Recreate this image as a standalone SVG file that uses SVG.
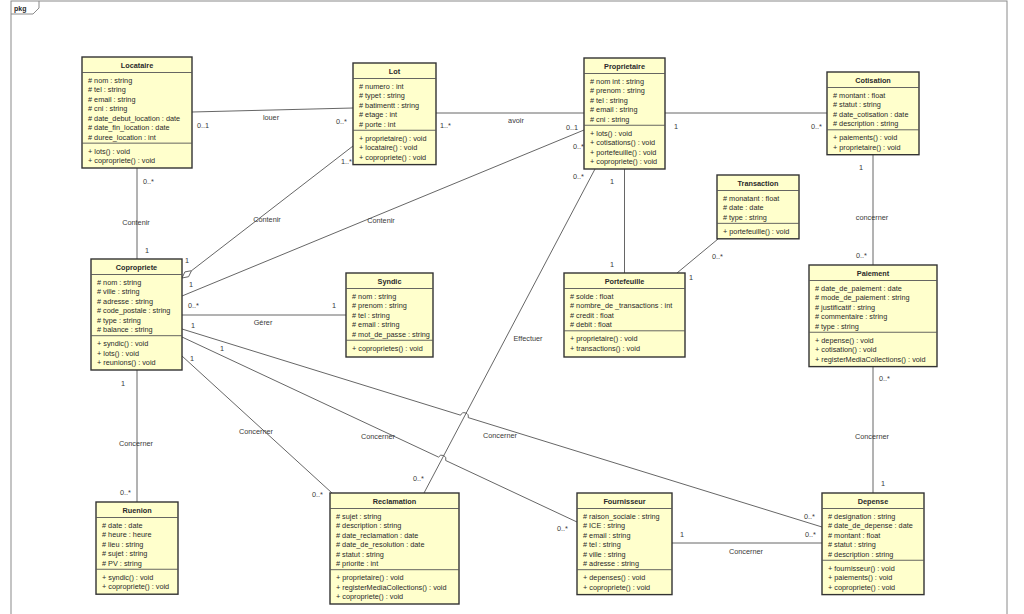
<svg xmlns="http://www.w3.org/2000/svg" width="1024" height="614" viewBox="0 0 1024 614">
<style>
text{font-family:"Liberation Sans",Arial,sans-serif;font-size:7.3px;fill:#2a2a2a}
.n rect{fill:#ffffcc;stroke:#333;stroke-width:1.4}
.n line{stroke:#555;stroke-width:0.9}
.n .t{font-weight:bold;text-anchor:middle}
.c path,.c line{fill:none;stroke:#555;stroke-width:0.9}
.c .dia{fill:#fff;stroke:#555;stroke-width:0.9}
.l text{fill:#3a3a3a}
.m{text-anchor:middle}
.frame{fill:none;stroke:#8a8a8a;stroke-width:1}
</style>
<rect width="1024" height="614" fill="#fff"/>
<g id="frame">
<rect class="frame" x="11" y="1" width="996" height="630"/>
<path class="frame" d="M11,14 H33 L39,8 V1"/>
<text x="14" y="10.5" style="font-weight:bold;font-size:7px">pkg</text>
</g>

<g class="c" id="connectors">
<line x1="192" y1="112" x2="353" y2="108"/>
<line x1="436" y1="113" x2="584" y2="113"/>
<line x1="665" y1="113" x2="827" y2="113"/>
<line x1="137" y1="168" x2="137" y2="259"/>
<line x1="353" y1="146" x2="191.5" y2="270.7"/>
<path class="dia" d="M182,278 L184.9,271.9 L191.5,270.7 L188.6,276.7 Z"/>
<line x1="584" y1="130" x2="182" y2="296"/>
<line x1="595" y1="169" x2="424" y2="493"/>
<line x1="624.5" y1="169" x2="624.5" y2="273"/>
<line x1="718" y1="239" x2="677" y2="273"/>
<line x1="873" y1="155" x2="873" y2="265"/>
<line x1="182" y1="315" x2="346" y2="315"/>
<line x1="137" y1="370" x2="137" y2="502"/>
<line x1="182" y1="356" x2="332" y2="493"/>
<path d="M182,337 L438.5,457.1 A4,4 0 0 1 445.7,460.5 L577,522"/>
<path d="M182,329 L460.6,415.2 A4,4 0 0 1 468.2,417.6 L822,527"/>
<line x1="672" y1="543" x2="822" y2="543"/>
<line x1="873" y1="367" x2="873" y2="493"/>
</g>

<g class="l" id="labels">
<text x="197" y="127.5">0..1</text>
<text x="271" y="119.5" class="m">louer</text>
<text x="336" y="124">0..*</text>
<text x="440" y="127.5">1..*</text>
<text x="516" y="122.5" class="m">avoir</text>
<text x="566" y="129.5">0..1</text>
<text x="674" y="128.5">1</text>
<text x="811" y="128.5">0..*</text>
<text x="143" y="183.5">0..*</text>
<text x="136" y="224.5" class="m">Contenir</text>
<text x="145" y="252.5">1</text>
<text x="267" y="221.5" class="m">Contenir</text>
<text x="185" y="262.5">1</text>
<text x="341" y="164">1..*</text>
<text x="381" y="222.5" class="m">Contenir</text>
<text x="573" y="149">0..*</text>
<text x="189" y="287">1</text>
<text x="188" y="307.5">0..*</text>
<text x="332" y="307.5">1</text>
<text x="263" y="324.5" class="m">Gérer</text>
<text x="191" y="327.5">1</text>
<text x="220" y="350.5">1</text>
<text x="190" y="360.5">1</text>
<text x="121" y="385.5">1</text>
<text x="136" y="445.5" class="m">Concerner</text>
<text x="120" y="494.5">0..*</text>
<text x="256" y="433.5" class="m">Concerner</text>
<text x="312" y="496.5">0..*</text>
<text x="413" y="480.5">0..*</text>
<text x="573" y="178.5">0..*</text>
<text x="528" y="340.5" class="m">Effectuer</text>
<text x="378" y="438.5" class="m">Concerner</text>
<text x="500" y="437.5" class="m">Concerner</text>
<text x="557" y="530.5">0..*</text>
<text x="804" y="518.5">0..*</text>
<text x="805" y="536.5">0..*</text>
<text x="680" y="536.5">1</text>
<text x="746" y="553.5" class="m">Concerner</text>
<text x="879" y="380.5">0..*</text>
<text x="872" y="438.5" class="m">Concerner</text>
<text x="881" y="485.5">1</text>
<text x="610" y="183.5">1</text>
<text x="610" y="266.5">1</text>
<text x="712" y="258.5">0..*</text>
<text x="689" y="279.5">1</text>
<text x="859" y="169.5">1</text>
<text x="872" y="219.5" class="m">concerner</text>
<text x="856" y="257.5">0..*</text>
</g>

<g class="n" id="Locataire">
<rect x="82" y="57" width="110" height="111"/>
<text class="t" x="137" y="68">Locataire</text>
<line x1="82" y1="72.5" x2="192" y2="72.5"/>
<text x="88" y="82.8"># nom : string</text>
<text x="88" y="92.25"># tel : string</text>
<text x="88" y="101.7"># email : string</text>
<text x="88" y="111.15"># cni : string</text>
<text x="88" y="120.6"># date_debut_location : date</text>
<text x="88" y="130.05"># date_fin_location : date</text>
<text x="88" y="139.5"># duree_location : int</text>
<line x1="82" y1="143.15" x2="192" y2="143.15"/>
<text x="88" y="153.65">+ lots() : void</text>
<text x="88" y="163.1">+ copropriete() : void</text>
</g>

<g class="n" id="Lot">
<rect x="353" y="63" width="83" height="101.6"/>
<text class="t" x="394.5" y="74">Lot</text>
<line x1="353" y1="78.5" x2="436" y2="78.5"/>
<text x="359" y="88.8"># numero : int</text>
<text x="359" y="98.25"># typet : string</text>
<text x="359" y="107.7"># batimentt : string</text>
<text x="359" y="117.15"># etage : int</text>
<text x="359" y="126.6"># porte : int</text>
<line x1="353" y1="130.25" x2="436" y2="130.25"/>
<text x="359" y="140.75">+ proprietaire() : void</text>
<text x="359" y="150.2">+ locataire() : void</text>
<text x="359" y="159.65">+ copropriete() : void</text>
</g>

<g class="n" id="Proprietaire">
<rect x="584" y="58" width="81" height="111"/>
<text class="t" x="624.5" y="69">Proprietaire</text>
<line x1="584" y1="73.5" x2="665" y2="73.5"/>
<text x="590" y="83.8"># nom int : string</text>
<text x="590" y="93.25"># prenom : string</text>
<text x="590" y="102.7"># tel : string</text>
<text x="590" y="112.15"># email : string</text>
<text x="590" y="121.6"># cni : string</text>
<line x1="584" y1="125.25" x2="665" y2="125.25"/>
<text x="590" y="135.75">+ lots() : void</text>
<text x="590" y="145.2">+ cotisations() : void</text>
<text x="590" y="154.65">+ portefeuille() : void</text>
<text x="590" y="164.1">+ copropriete() : void</text>
</g>

<g class="n" id="Cotisation">
<rect x="827" y="72" width="92" height="82.7"/>
<text class="t" x="873" y="83">Cotisation</text>
<line x1="827" y1="87.5" x2="919" y2="87.5"/>
<text x="833" y="97.8"># montant : float</text>
<text x="833" y="107.25"># statut : string</text>
<text x="833" y="116.7"># date_cotisation : date</text>
<text x="833" y="126.15"># description : string</text>
<line x1="827" y1="129.8" x2="919" y2="129.8"/>
<text x="833" y="140.3">+ paiements() : void</text>
<text x="833" y="149.75">+ proprietaire() : void</text>
</g>

<g class="n" id="Transaction">
<rect x="717" y="175" width="82" height="63.8"/>
<text class="t" x="758" y="186">Transaction</text>
<line x1="717" y1="190.5" x2="799" y2="190.5"/>
<text x="723" y="200.8"># monatant : float</text>
<text x="723" y="210.25"># date : date</text>
<text x="723" y="219.7"># type : string</text>
<line x1="717" y1="223.35" x2="799" y2="223.35"/>
<text x="723" y="233.85">+ portefeuille() : void</text>
</g>

<g class="n" id="Copropriete">
<rect x="91" y="259" width="91" height="111"/>
<text class="t" x="136.5" y="270">Copropriete</text>
<line x1="91" y1="274.5" x2="182" y2="274.5"/>
<text x="97" y="284.8"># nom : string</text>
<text x="97" y="294.25"># ville : string</text>
<text x="97" y="303.7"># adresse : string</text>
<text x="97" y="313.15"># code_postale : string</text>
<text x="97" y="322.6"># type : string</text>
<text x="97" y="332.05"># balance : string</text>
<line x1="91" y1="335.7" x2="182" y2="335.7"/>
<text x="97" y="346.2">+ syndic() : void</text>
<text x="97" y="355.65">+ lots() : void</text>
<text x="97" y="365.1">+ reunions() : void</text>
</g>

<g class="n" id="Syndic">
<rect x="346" y="273" width="87" height="84"/>
<text class="t" x="389.5" y="284">Syndic</text>
<line x1="346" y1="288.5" x2="433" y2="288.5"/>
<text x="352" y="298.8"># nom : string</text>
<text x="352" y="308.25"># prenom : string</text>
<text x="352" y="317.7"># tel : string</text>
<text x="352" y="327.15"># email : string</text>
<text x="352" y="336.6"># mot_de_passe : string</text>
<line x1="346" y1="340.25" x2="433" y2="340.25"/>
<text x="352" y="350.75">+ coproprietes() : void</text>
</g>

<g class="n" id="Portefeuille">
<rect x="564" y="273" width="121" height="84"/>
<text class="t" x="624.5" y="284">Portefeuille</text>
<line x1="564" y1="288.5" x2="685" y2="288.5"/>
<text x="570" y="298.8"># solde : float</text>
<text x="570" y="308.25"># nombre_de _transactions : int</text>
<text x="570" y="317.7"># credit : float</text>
<text x="570" y="327.15"># debit : float</text>
<line x1="564" y1="330.8" x2="685" y2="330.8"/>
<text x="570" y="341.3">+ proprietaire() : void</text>
<text x="570" y="350.75">+ transactions() : void</text>
</g>

<g class="n" id="Paiement">
<rect x="809" y="265" width="128" height="101.6"/>
<text class="t" x="873" y="276">Paiement</text>
<line x1="809" y1="280.5" x2="937" y2="280.5"/>
<text x="815" y="290.8"># date_de_paiement : date</text>
<text x="815" y="300.25"># mode_de_paiement : string</text>
<text x="815" y="309.7"># justificatif : string</text>
<text x="815" y="319.15"># commentaire : string</text>
<text x="815" y="328.6"># type : string</text>
<line x1="809" y1="332.25" x2="937" y2="332.25"/>
<text x="815" y="342.75">+ depense() : void</text>
<text x="815" y="352.2">+ cotisation() : void</text>
<text x="815" y="361.65">+ registerMediaCollections() : void</text>
</g>

<g class="n" id="Ruenion">
<rect x="96" y="502" width="82" height="92.2"/>
<text class="t" x="137" y="513">Ruenion</text>
<line x1="96" y1="517.5" x2="178" y2="517.5"/>
<text x="102" y="527.8"># date : date</text>
<text x="102" y="537.25"># heure : heure</text>
<text x="102" y="546.7"># lieu : string</text>
<text x="102" y="556.15"># sujet : string</text>
<text x="102" y="565.6"># PV : string</text>
<line x1="96" y1="569.25" x2="178" y2="569.25"/>
<text x="102" y="579.75">+ syndic() : void</text>
<text x="102" y="589.2">+ copropriete() : void</text>
</g>

<g class="n" id="Reclamation">
<rect x="330" y="493" width="129" height="111"/>
<text class="t" x="394.5" y="504">Reclamation</text>
<line x1="330" y1="508.5" x2="459" y2="508.5"/>
<text x="336" y="518.8"># sujet : string</text>
<text x="336" y="528.25"># description : string</text>
<text x="336" y="537.7"># date_reclamation : date</text>
<text x="336" y="547.15"># date_de_resolution : date</text>
<text x="336" y="556.6"># statut : string</text>
<text x="336" y="566.05"># priorite : int</text>
<line x1="330" y1="569.7" x2="459" y2="569.7"/>
<text x="336" y="580.2">+ proprietaire() : void</text>
<text x="336" y="589.65">+ registerMediaCollections() : void</text>
<text x="336" y="599.1">+ copropriete() : void</text>
</g>

<g class="n" id="Fournisseur">
<rect x="577" y="493" width="95" height="101.6"/>
<text class="t" x="624.5" y="504">Fournisseur</text>
<line x1="577" y1="508.5" x2="672" y2="508.5"/>
<text x="583" y="518.8"># raison_sociale : string</text>
<text x="583" y="528.25"># ICE : string</text>
<text x="583" y="537.7"># email : string</text>
<text x="583" y="547.15"># tel : string</text>
<text x="583" y="556.6"># ville : string</text>
<text x="583" y="566.05"># adresse : string</text>
<line x1="577" y1="569.7" x2="672" y2="569.7"/>
<text x="583" y="580.2">+ depenses() : void</text>
<text x="583" y="589.65">+ copropriete() : void</text>
</g>

<g class="n" id="Depense">
<rect x="822" y="493" width="102" height="101.6"/>
<text class="t" x="873" y="504">Depense</text>
<line x1="822" y1="508.5" x2="924" y2="508.5"/>
<text x="828" y="518.8"># designation : string</text>
<text x="828" y="528.25"># date_de_depense : date</text>
<text x="828" y="537.7"># montant : float</text>
<text x="828" y="547.15"># statut : string</text>
<text x="828" y="556.6"># description : string</text>
<line x1="822" y1="560.25" x2="924" y2="560.25"/>
<text x="828" y="570.75">+ fournisseur() : void</text>
<text x="828" y="580.2">+ paiements() : void</text>
<text x="828" y="589.65">+ copropriete() : void</text>
</g>
</svg>
